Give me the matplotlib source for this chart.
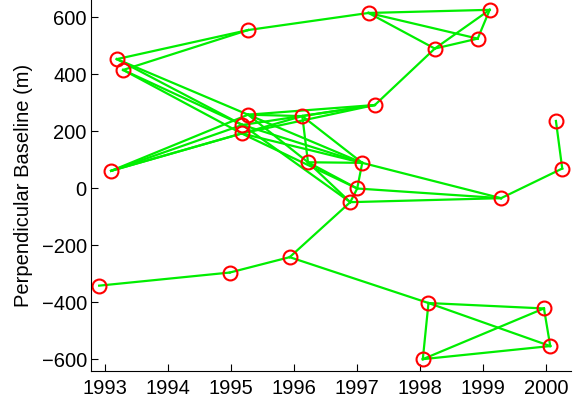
import numpy as np
import matplotlib
matplotlib.use("Agg")
import matplotlib.pyplot as plt

# acquisition dates (decimal years) and perpendicular baselines (m)
years = [1992.91, 1994.98, 1995.93, 1998.13, 1998.04, 1999.96, 2000.06,
         1999.28, 1996.89, 1997.00, 1997.08, 1996.22, 1996.13, 1997.28,
         1998.23, 1998.91, 1999.10, 1997.18, 1995.27, 1993.19, 1993.29,
         1993.10, 1995.27, 1995.18, 1995.17, 2000.15, 2000.25]
bperp = [-343, -297, -243, -404, -601, -423, -555,
         -36, -50, -2, 88, 90, 252, 291,
         489, 524, 625, 614, 554, 452, 414,
         60, 257, 221, 191, 235, 68]

# interferometric pairs (indices into the arrays above)
pairs = [(0, 1), (1, 2), (2, 3), (2, 8),
         (3, 4), (3, 5), (3, 6), (4, 5), (4, 6), (5, 6),
         (7, 8), (7, 9), (7, 10), (7, 26), (25, 26),
         (8, 9), (9, 10), (11, 10), (11, 9), (11, 8), (12, 11), (12, 10), (12, 13),
         (13, 14), (14, 15), (14, 16), (15, 16), (17, 16), (17, 15), (17, 14), (18, 17),
         (19, 18), (20, 18), (19, 22), (19, 23), (20, 23), (20, 24),
         (21, 22), (21, 23), (21, 24), (21, 12),
         (22, 13), (23, 13), (24, 13), (22, 12),
         (22, 10), (23, 10), (24, 10), (24, 9), (23, 8), (22, 11)]

xtick_years = [1993, 1994, 1995, 1996, 1997, 1998, 1999, 2000]
yticks = [-600, -400, -200, 0, 200, 400, 600]

plt.rcParams["font.family"] = ["Liberation Sans", "DejaVu Sans"]

fig = plt.figure(figsize=(5.83, 4.02), dpi=100)
ax = fig.add_axes([0.156, 0.075, 0.823, 0.925])

x = np.array(years)
y = np.array(bperp)
for i, j in pairs:
    ax.plot([x[i], x[j]], [y[i], y[j]], color="#00ee00", lw=1.6, zorder=1)
ax.plot(x, y, "o", mfc="none", mec="red", mew=1.5, ms=10, zorder=2)

ax.set_xlim(1992.78, 2000.385)
ax.set_ylim(-642, 663)
ax.set_xticks(xtick_years)
ax.set_xticklabels([str(v) for v in xtick_years])
ax.set_yticks(yticks)
ax.set_yticklabels([str(v).replace("-", "\u2212") for v in yticks])
ax.set_ylabel("Perpendicular Baseline (m)", fontsize=14.5, labelpad=6)

ax.spines["top"].set_visible(False)
ax.spines["right"].set_visible(False)
ax.tick_params(direction="in", length=5, width=0.8, labelsize=14.5)
ax.tick_params(axis="x", pad=5)
ax.tick_params(axis="y", pad=3)

fig.savefig("out.png", dpi=100)
